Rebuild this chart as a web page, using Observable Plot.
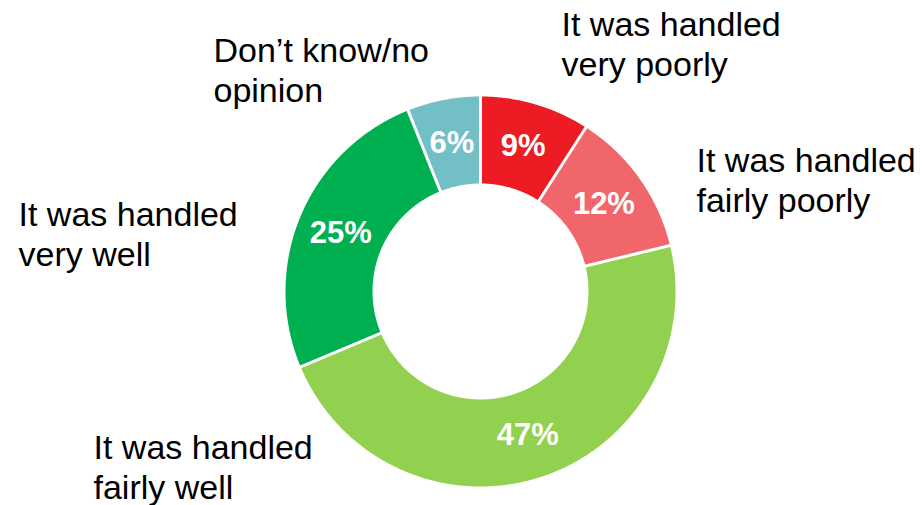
<!DOCTYPE html>
<html>
<head>
<meta charset="utf-8">
<script src="https://cdn.jsdelivr.net/npm/d3@7"></script>
<script src="https://cdn.jsdelivr.net/npm/@observablehq/plot@0.6"></script>
<style>
  html, body { margin: 0; padding: 0; background: #ffffff; }
  #chart svg { display: block; }
</style>
</head>
<body>
<div id="chart"></div>
<script>
// ---- Data ----
const categories = [
  "It was handled very poorly",
  "It was handled fairly poorly",
  "It was handled fairly well",
  "It was handled very well",
  "Don’t know/no opinion"
];
const values = [9, 12, 47, 25, 6];
const labelTexts = [
  "It was handled\nvery poorly",
  "It was handled\nfairly poorly",
  "It was handled\nfairly well",
  "It was handled\nvery well",
  "Don’t know/no\nopinion"
];

// ---- Styles / layout (kept apart from the data) ----
const palette = ["#ED1C24", "#F1666A", "#92D050", "#00B050", "#73BFC6"];
const W = 922, H = 505;
const CX = 480, CY = 291, R = 195;      // pixel centre and outer radius
const INNER = 108 / R;                  // inner radius in unit radii
// label anchors in pixels (left edge, vertical centre of block)
const labelAnchors = [[561, 43], [696, 179], [93, 466], [18, 233], [213, 69]];

const data = categories.map((c, i) => ({category: c, value: values[i], label: labelTexts[i]}));
const arcs = d3.pie().sort(null).value(d => d.value)(data);

// polygon outline for each slice (unit coordinates, y up)
const pts = [];
for (const a of arcs) {
  const n = Math.max(2, Math.ceil((a.endAngle - a.startAngle) / (Math.PI / 360)));
  for (let k = 0; k <= n; k++) {
    const t = a.startAngle + (a.endAngle - a.startAngle) * k / n;
    pts.push({category: a.data.category, x: Math.sin(t), y: Math.cos(t)});
  }
  for (let k = n; k >= 0; k--) {
    const t = a.startAngle + (a.endAngle - a.startAngle) * k / n;
    pts.push({category: a.data.category, x: INNER * Math.sin(t), y: INNER * Math.cos(t)});
  }
}

const seps = arcs.map(a => ({
  x1: 0.5 * Math.sin(a.startAngle), y1: 0.5 * Math.cos(a.startAngle),
  x2: 1.05 * Math.sin(a.startAngle), y2: 1.05 * Math.cos(a.startAngle)
}));

const mid = (1 + INNER) / 2;
const pct = arcs.map(a => {
  const t = (a.startAngle + a.endAngle) / 2;
  return {x: mid * Math.sin(t), y: mid * Math.cos(t), text: a.data.value + "%"};
});

const outerLabels = data.map((d, i) => ({
  x: (labelAnchors[i][0] - CX) / R,
  y: (CY - labelAnchors[i][1]) / R,
  text: d.label
}));

const font = "'Liberation Sans', Arial, Helvetica, sans-serif";

const chart = Plot.plot({
  width: W,
  height: H,
  margin: 0,
  style: {background: "#ffffff", fontFamily: font},
  x: {domain: [-CX / R, (W - CX) / R], axis: null},
  y: {domain: [-(H - CY) / R, CY / R], axis: null},
  color: {domain: categories, range: palette},
  marks: [
    Plot.line(pts, {x: "x", y: "y", z: "category", fill: "category", stroke: null, curve: "linear-closed"}),
    Plot.link(seps, {x1: "x1", y1: "y1", x2: "x2", y2: "y2", stroke: "#ffffff", strokeWidth: 3}),
    Plot.text(pct, {x: "x", y: "y", text: "text", fill: "#ffffff", fontSize: 31, fontWeight: "bold", fontFamily: font, textAnchor: "middle"}),
    Plot.text(outerLabels, {x: "x", y: "y", text: "text", fill: "#000000", fontSize: 34, lineHeight: 1.18, fontFamily: font, textAnchor: "start", lineAnchor: "middle"})
  ]
});
document.getElementById("chart").appendChild(chart);
</script>
</body>
</html>
